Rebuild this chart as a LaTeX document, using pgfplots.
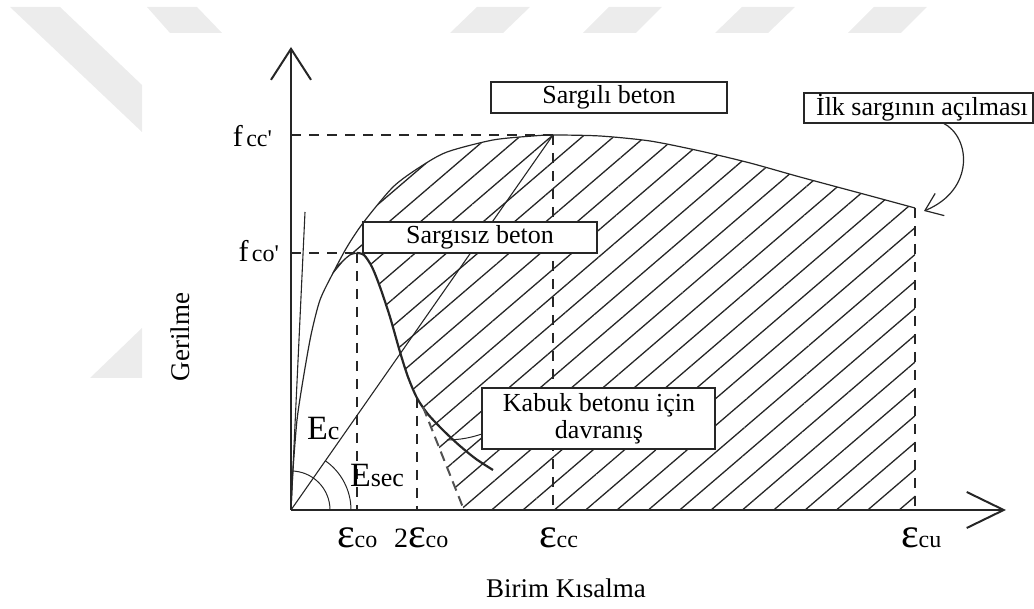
\documentclass[border=0pt]{standalone}
\usepackage{fontspec}
\setmainfont{Liberation Serif}
\usepackage{pgfplots}
\pgfplotsset{compat=1.18}
\usetikzlibrary{patterns.meta,arrows.meta}

\definecolor{ink}{HTML}{262626}
\definecolor{wm}{HTML}{ECECEC}

% font size helper: \fs{size in pt}{text}
\newcommand\fs[2]{{\fontsize{#1}{#1}\selectfont #2}}
\newcommand\pr{\textquotesingle}

\begin{document}
\begin{tikzpicture}
\begin{axis}[
  hide axis,
  x=5pt, y=5pt,
  xmin=-29.1, xmax=74.3,
  ymin=-9.9, ymax=51.0,
  clip=false,
]

% background logo stripes
\addplot[fill=wm, draw=none] coordinates {(-28.1,50.3) (-23.1,50.3) (-14.9,42.5) (-14.9,37.8)};
\addplot[fill=wm, draw=none] coordinates {(-14.4,50.3) (-9.4,50.3) (-6.9,47.7) (-12.1,47.7)};
\addplot[fill=wm, draw=none] coordinates {(15.9,47.7) (21.2,47.7) (23.9,50.3) (18.6,50.3)};
\addplot[fill=wm, draw=none] coordinates {(29.2,47.7) (34.5,47.7) (37.1,50.3) (31.8,50.3)};
\addplot[fill=wm, draw=none] coordinates {(42.4,47.7) (47.7,47.7) (50.4,50.3) (45.1,50.3)};
\addplot[fill=wm, draw=none] coordinates {(55.7,47.7) (61.0,47.7) (63.6,50.3) (58.3,50.3)};
\addplot[fill=wm, draw=none] coordinates {(-14.9,18.2) (-14.9,13.2) (-20.1,13.2)};

% hatched area: confined minus unconfined/spalled cover
\addplot[draw=none, pattern={Lines[angle=40.6,distance=10.2pt,line width=0.65pt]}, pattern color=ink]
coordinates {
 (4.2,23.7) (5.6,26.3) (7.2,28.7) (10.2,32.3) (12.9,34.3) (15.6,35.8) (20.2,37.0)
 (24.2,37.4) (26.2,37.5) (30.9,37.4) (35.9,36.9) (40.9,35.9) (45.9,34.7) (50.9,33.3)
 (57.6,31.5) (62.4,30.2) (62.4,0) (17.3,0) (13.2,10.3) (12.6,11.2) (11.7,13.3)
 (10.9,15.8) (9.9,19.3) (8.9,22.3) (8.1,24.3) (7.3,25.5) (6.6,25.7) (5.9,25.5)
 (5.2,24.9) (4.2,23.7)
};

% reference dashed lines
\addplot[ink, line width=1pt, dash pattern=on 5pt off 4pt] coordinates {(0,37.5) (26.2,37.5)};
\addplot[ink, line width=1pt, dash pattern=on 5pt off 4pt] coordinates {(0,25.7) (6.6,25.7)};
\addplot[ink, line width=1pt, dash pattern=on 5pt off 4pt] coordinates {(6.6,25.7) (6.6,0)};
\addplot[ink, line width=1pt, dash pattern=on 5pt off 4pt] coordinates {(12.6,11.2) (12.6,0)};
\addplot[ink, line width=1pt, dash pattern=on 5pt off 4pt] coordinates {(26.2,37.5) (26.2,0)};
\addplot[ink, line width=1pt, dash pattern=on 5pt off 4pt] coordinates {(62.4,30.2) (62.4,0)};

% tangent and secant moduli
\addplot[ink, line width=0.55pt] coordinates {(0,0) (1.4,29.8)};
\addplot[ink, line width=0.55pt] coordinates {(0,0) (26.2,37.5)};

% confined concrete
\addplot[ink, line width=0.6pt, smooth, tension=0.45] coordinates {
 (0,0) (0.2,4.0) (0.6,9.0) (1.2,13.0) (2.0,17.5) (2.9,21.0) (4.2,23.7) (5.6,26.3)
 (7.2,28.7) (10.2,32.3) (12.9,34.3) (15.6,35.8) (20.2,37.0) (24.2,37.4) (26.2,37.5)
 (30.9,37.4) (35.9,36.9) (40.9,35.9) (45.9,34.7) (50.9,33.3) (57.6,31.5) (62.4,30.2)
};

% unconfined concrete, ascending part
\addplot[ink, line width=0.6pt, smooth] coordinates {
 (4.2,23.7) (5.2,24.9) (5.9,25.5) (6.6,25.7)
};
% unconfined concrete, descending part
\addplot[ink, line width=1.1pt, smooth] coordinates {
 (6.6,25.7) (7.3,25.5) (8.1,24.3) (8.9,22.3) (9.9,19.3) (10.9,15.8) (11.7,13.3)
 (12.6,11.2) (13.6,9.7) (14.6,8.6) (15.7,7.5) (16.9,6.4) (18.5,5.1) (20.2,4.0)
};
% spalling of cover concrete
\addplot[ink!80, line width=1pt, dash pattern=on 5pt off 3pt] coordinates {(13.2,10.3) (17.3,0)};

% axes
\draw[ink, line width=1pt, -{Straight Barb[length=15.5pt,width=20pt]}] (axis cs:0,0) -- (axis cs:0,46.3);
\draw[ink, line width=1pt, -{Straight Barb[length=18.5pt,width=18pt]}] (axis cs:0,0) -- (axis cs:71.5,0);

% angle arcs at the origin
\draw[ink, line width=0.5pt] (axis cs:3.9,0) arc[start angle=0, end angle=90, radius=19.5pt];
\draw[ink, line width=0.5pt] (axis cs:6.0,0) arc[start angle=0, end angle=55, radius=30pt];

% boxes
\draw[ink, line width=1.1pt, fill=white] (axis cs:20.0,42.8) rectangle (axis cs:43.6,39.7);
\node at (axis cs:31.8,41.25) {\fs{13}{Sargılı beton}};
\draw[ink, line width=1.1pt, fill=white] (axis cs:7.2,28.8) rectangle (axis cs:30.6,25.7);
\node at (axis cs:18.9,27.25) {\fs{13}{Sargısız beton}};
\draw[ink, line width=1.1pt, fill=white] (axis cs:51.3,41.7) rectangle (axis cs:74.2,38.7);
\node at (axis cs:63.1,40.2) {\fs{13}{İlk sargının açılması}};
\draw[ink, line width=1.1pt, fill=white] (axis cs:19.1,12.2) rectangle (axis cs:42.4,6.1);
\node[align=center, font=\fontsize{13}{13.5}\selectfont] at (axis cs:30.8,9.15) {Kabuk betonu için\\davranış};

% leader and curved arrow
\draw[ink, line width=0.5pt] (axis cs:19.1,7.6) to[bend left=8] (axis cs:15.6,7.0);
\draw[ink, line width=0.6pt, -{Straight Barb[length=8pt,width=12pt]}]
  (axis cs:65.2,38.7) .. controls (axis cs:68.0,37.3) and (axis cs:68.4,32.0) .. (axis cs:63.3,29.9);

% value labels
\node[anchor=base east] at (axis cs:-1.2,36.3) {\fs{15}{f}\,\fs{12}{cc\pr}};
\node[anchor=base east] at (axis cs:-0.5,24.8) {\fs{15}{f}\,\fs{12}{co\pr}};
\node[anchor=base west] at (axis cs:3.9,-3.8) {\fs{21}{ε}\fs{12}{co}};
\node[anchor=base west] at (axis cs:9.6,-3.8) {\fs{14}{2}\fs{21}{ε}\fs{12}{co}};
\node[anchor=base west] at (axis cs:24.1,-3.8) {\fs{21}{ε}\fs{12}{cc}};
\node[anchor=base west] at (axis cs:60.3,-3.8) {\fs{21}{ε}\fs{12}{cu}};
\node[anchor=base west] at (axis cs:0.9,7.0) {\fs{17}{E}\fs{13}{c}};
\node[anchor=base west] at (axis cs:5.2,2.3) {\fs{17}{E}\fs{13}{sec}};

% axis titles
\node[rotate=90] at (axis cs:-11.1,17.3) {\fs{13.5}{Gerilme}};
\node[anchor=base] at (axis cs:27.5,-8.8) {\fs{13.5}{Birim Kısalma}};

\end{axis}
\pgfresetboundingbox
\useasboundingbox (current axis.south west) rectangle (current axis.north east);
\end{tikzpicture}
\end{document}
